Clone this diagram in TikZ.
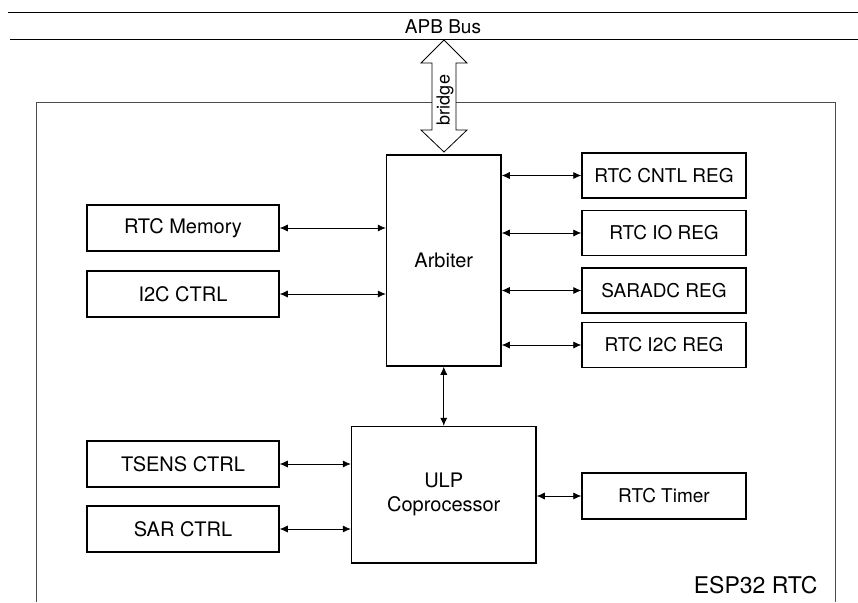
\documentclass[tikz,border=0pt]{standalone}
\usepackage{fontspec}
\setmainfont{TeX Gyre Heros}
\usetikzlibrary{arrows.meta}
\begin{document}
\begin{tikzpicture}[x=1pt,y=-1pt,
  blk/.style={draw, line width=1.5pt, rectangle, inner sep=0pt, font=\fontsize{20}{24}\selectfont},
  lbox/.style={blk, minimum width=192pt, minimum height=46pt},
  rbox/.style={blk, minimum width=164pt, minimum height=45pt, font=\fontsize{19}{23}\selectfont},
  conn/.style={line width=0.7pt, {Latex[length=8pt,width=7pt]}-{Latex[length=8pt,width=7pt]}},
  thinline/.style={line width=1pt}
]
\useasboundingbox (0,0) rectangle (858,602);
% bus
\draw[thinline] (8,13) -- (858,13);
\draw[thinline] (10,40) -- (858,40);
\node[font=\fontsize{19}{22}\selectfont] (apb) at (443,27) {APB Bus};
% outer box
\draw[line width=0.8pt, black!70] (36,602) -- (36,102) -- (835,102) -- (835,602);
\node[font=\fontsize{23}{26}\selectfont, anchor=east] (esp) at (821,585) {ESP32 RTC};
% bridge arrow
\draw[line width=0.8pt, fill=white] (444,40) -- (467,63) -- (456,63) -- (456,130) -- (467,130)
  -- (444,152) -- (421,130) -- (432,130) -- (432,63) -- (421,63) -- cycle;
\node[rotate=90, font=\fontsize{18}{21}\selectfont] (bridge) at (445,100) {bridge};
% blocks
\node[blk, minimum width=114.5pt, minimum height=211pt] (arb) at (443.75,260.5) {Arbiter};
\node[blk, minimum width=184.5pt, minimum height=136.5pt, align=center] (ulp) at (443.75,494.75) {ULP\\Coprocessor};
\node[lbox] (mem) at (183,228) {RTC Memory};
\node[lbox] (i2c) at (183,294) {I2C CTRL};
\node[lbox] (tsens) at (183,464) {TSENS CTRL};
\node[lbox] (sar) at (183,529) {SAR CTRL};
\node[rbox] (cntl) at (664,175.5) {RTC CNTL REG};
\node[rbox] (io) at (664,233) {RTC IO REG};
\node[rbox] (adc) at (664,290.5) {SARADC REG};
\node[rbox] (ri2c) at (664,345) {RTC I2C REG};
\node[rbox, minimum height=46pt] (timer) at (664,496) {RTC Timer};
% connectors
\draw[conn] (mem.east) -- (arb.west |- mem.east);
\draw[conn] (i2c.east) -- (arb.west |- i2c.east);
\draw[conn] (arb.east |- cntl.west) -- (cntl.west);
\draw[conn] (arb.east |- io.west) -- (io.west);
\draw[conn] (arb.east |- adc.west) -- (adc.west);
\draw[conn] (arb.east |- ri2c.west) -- (ri2c.west);
\draw[conn] (arb.south) -- (ulp.north);
\draw[conn] (tsens.east) -- (ulp.west |- tsens.east);
\draw[conn] (sar.east) -- (ulp.west |- sar.east);
\draw[conn] (ulp.east |- timer.west) -- (timer.west);
\end{tikzpicture}
\end{document}
